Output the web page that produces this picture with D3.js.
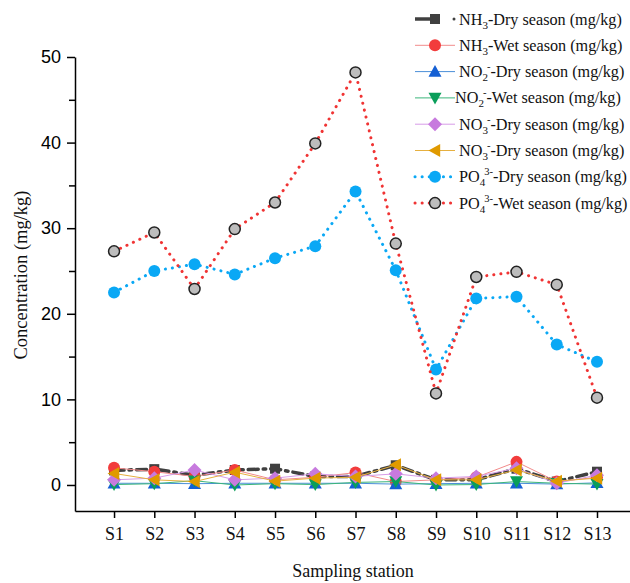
<!DOCTYPE html>
<html>
<head>
<meta charset="utf-8">
<script src="https://cdn.jsdelivr.net/npm/d3@7"></script>
<style>
  html, body { margin: 0; padding: 0; background: #fff; }
  svg { display: block; }
</style>
</head>
<body>
<svg id="chart" width="630" height="583"></svg>
<script>
// ---------- data ----------
const stations = ["S1","S2","S3","S4","S5","S6","S7","S8","S9","S10","S11","S12","S13"];
const yTicks = [0, 10, 20, 30, 40, 50];
const yMinorTicks = [5, 15, 25, 35, 45];

const nh3Dry  = [1.7, 1.85, 1.15, 1.75, 1.9, 1.0, 1.0, 2.3, 0.6, 0.6, 1.9, 0.4, 1.55];
const nh3Wet  = [2.0, 1.55, 1.0, 1.75, 0.6, 0.9, 1.45, 0.4, 0.6, 0.9, 2.7, 0.4, 0.9];
const no2Dry  = [0.2, 0.2, 0.15, 0.2, 0.2, 0.2, 0.2, 0.1, 0.15, 0.2, 0.2, 0.1, 0.25];
const no2Wet  = [0.05, 0.15, 0.5, 0.0, 0.15, 0.05, 0.3, 0.4, 0.0, 0.05, 0.4, 0.2, 0.1];
const no3Dry  = [0.6, 0.8, 1.75, 0.6, 0.8, 1.3, 1.0, 1.3, 0.8, 1.0, 1.95, 0.2, 1.15];
const no3Dry2 = [1.35, 0.6, 0.4, 1.5, 0.45, 0.8, 0.9, 2.35, 0.6, 0.6, 1.75, 0.45, 0.8];
const po4Dry  = [22.5, 25.0, 25.8, 24.6, 26.5, 27.9, 34.3, 25.1, 13.5, 21.8, 22.0, 16.4, 14.4];
const po4Wet  = [27.3, 29.5, 22.9, 29.9, 33.0, 39.9, 48.2, 28.2, 10.7, 24.3, 24.9, 23.4, 10.2];

// ---------- series styling ----------
const series = [
  {name:"NH", sub:"3", sup:"", rest:"-Dry season (mg/kg)", values:nh3Dry, line:"#404040", marker:"#404040", width:3.5, dash:"10,5,2.5,5", symbol:"square", size:10, stroke:"none"},
  {name:"NH", sub:"3", sup:"", rest:"-Wet season (mg/kg)", values:nh3Wet, line:"#f28b8b", marker:"#f23c3c", width:1, dash:null, symbol:"circle", size:12, stroke:"none"},
  {name:"NO", sub:"2", sup:"-", rest:"-Dry season (mg/kg)", values:no2Dry, line:"#4a8fd8", marker:"#1560d4", width:1, dash:null, symbol:"up", size:13, stroke:"none"},
  {name:"NO", sub:"2", sup:"-", rest:"-Wet season (mg/kg)", values:no2Wet, line:"#3bb57a", marker:"#0a9e5a", width:1, dash:null, symbol:"down", size:13, stroke:"none", legendShift:-4},
  {name:"NO", sub:"3", sup:"-", rest:"-Dry season (mg/kg)", values:no3Dry, line:"#d79ce8", marker:"#c77ade", width:1, dash:null, symbol:"diamond", size:14, stroke:"none"},
  {name:"NO", sub:"3", sup:"-", rest:"-Dry season (mg/kg)", values:no3Dry2, line:"#e6b040", marker:"#e09a00", width:1, dash:null, symbol:"left", size:13, stroke:"none"},
  {name:"PO", sub:"4", sup:"3-", rest:"-Dry season (mg/kg)", values:po4Dry, line:"#0aa8f5", marker:"#0aa8f5", width:3, dash:"0.1,7", symbol:"circle", size:12, stroke:"none"},
  {name:"PO", sub:"4", sup:"3-", rest:"-Wet season (mg/kg)", values:po4Wet, line:"#f03434", marker:"#bdbdbd", width:3, dash:"0.1,7", symbol:"circle", size:11, stroke:"#222"}
];

// ---------- scales ----------
const svg = d3.select("#chart");
const y = d3.scaleLinear().domain([-3.04, 50]).range([511, 57]);
const x = d3.scaleLinear().domain([-0.97, 12.82]).range([75, 630]);

// ---------- axes ----------
const yAxis = d3.axisLeft(y).tickValues(yTicks).tickSize(8).tickSizeOuter(0).tickPadding(6).tickFormat(d3.format("d"));
const gy = svg.append("g").attr("transform","translate(75,0)").call(yAxis);
gy.selectAll("text").attr("font-family","'Liberation Sans', Arial, sans-serif").attr("font-size","18px").attr("fill","#000");
gy.selectAll("line, path").attr("stroke","#000").attr("stroke-width",1.5);
const gyMinor = svg.append("g").attr("transform","translate(75,0)")
  .call(d3.axisLeft(y).tickValues(yMinorTicks).tickSize(6).tickSizeOuter(0).tickFormat(""));
gyMinor.select("path").remove();
gyMinor.selectAll("line").attr("stroke","#000").attr("stroke-width",1.5);

const xAxis = d3.axisBottom(x).tickValues(d3.range(stations.length)).tickFormat(i => stations[i]).tickSize(7).tickSizeOuter(0).tickPadding(9);
const gx = svg.append("g").attr("transform","translate(0,511)").call(xAxis);
gx.selectAll("text").attr("font-family","'Liberation Serif', 'Times New Roman', serif").attr("font-size","18px").attr("fill","#111");
gx.selectAll("line, path").attr("stroke","#000").attr("stroke-width",1.5);

// axis titles
svg.append("text").attr("transform","translate(27,275) rotate(-90)")
  .attr("text-anchor","middle").attr("font-family","'Liberation Serif', serif").attr("font-size","18.5px")
  .attr("fill","#111").text("Concentration (mg/kg)");
svg.append("text").attr("x",353).attr("y",577)
  .attr("text-anchor","middle").attr("font-family","'Liberation Serif', serif").attr("font-size","18px")
  .attr("fill","#111").text("Sampling station");

// ---------- symbols ----------
function drawSymbol(g, s, cx, cy) {
  const h = s.size / 2;
  let el;
  if (s.symbol === "square") {
    el = g.append("rect").attr("x",cx-h).attr("y",cy-h).attr("width",s.size).attr("height",s.size);
  } else if (s.symbol === "circle") {
    el = g.append("circle").attr("cx",cx).attr("cy",cy).attr("r",h);
  } else if (s.symbol === "diamond") {
    el = g.append("path").attr("d",`M${cx},${cy-h}L${cx+h},${cy}L${cx},${cy+h}L${cx-h},${cy}Z`);
  } else if (s.symbol === "up") {
    el = g.append("path").attr("d",`M${cx},${cy-h}L${cx+h},${cy+h*0.8}L${cx-h},${cy+h*0.8}Z`);
  } else if (s.symbol === "down") {
    el = g.append("path").attr("d",`M${cx},${cy+h}L${cx+h},${cy-h*0.8}L${cx-h},${cy-h*0.8}Z`);
  } else if (s.symbol === "left") {
    el = g.append("path").attr("d",`M${cx-h},${cy}L${cx+h*0.8},${cy-h}L${cx+h*0.8},${cy+h}Z`);
  }
  el.attr("fill", s.marker);
  if (s.stroke !== "none") el.attr("stroke", s.stroke).attr("stroke-width", 1.5);
}

// ---------- series ----------
const line = d3.line().x((d,i) => x(i)).y(d => y(d));
series.forEach(s => {
  const g = svg.append("g");
  const p = g.append("path").attr("d", line(s.values)).attr("fill","none")
    .attr("stroke", s.line).attr("stroke-width", s.width);
  if (s.dash) p.attr("stroke-dasharray", s.dash).attr("stroke-linecap","round");
  s.values.forEach((v,i) => drawSymbol(g, s, x(i), y(v)));
});

// ---------- legend ----------
const legendY0 = 19, legendStep = 26.3;
series.forEach((s, k) => {
  const ly = legendY0 + k * legendStep;
  const g = svg.append("g");
  if (s.symbol === "square") {
    g.append("line").attr("x1",415).attr("x2",437).attr("y1",ly).attr("y2",ly)
      .attr("stroke",s.line).attr("stroke-width",s.width);
    g.append("circle").attr("cx",454).attr("cy",ly).attr("r",1.5).attr("fill",s.line);
  } else {
    const l = g.append("line").attr("x1",415).attr("x2",455).attr("y1",ly).attr("y2",ly)
      .attr("stroke",s.line).attr("stroke-width",s.width);
    if (s.dash) l.attr("stroke-dasharray",s.dash).attr("stroke-linecap","round");
  }
  drawSymbol(g, s, 435, ly);
  const t = g.append("text").attr("x", 459 + (s.legendShift || 0)).attr("y", ly + 5.5)
    .attr("font-family","'Liberation Serif', serif").attr("font-size","16.2px").attr("fill","#111");
  t.append("tspan").text(s.name);
  t.append("tspan").attr("font-size","11px").attr("dy",4).text(s.sub);
  if (s.sup) {
    t.append("tspan").attr("font-size","10.5px").attr("dx",-1).attr("dy",-11).text(s.sup);
    t.append("tspan").attr("dy",7).text(s.rest);
  } else {
    t.append("tspan").attr("dy",-4).text(s.rest);
  }
});
</script>
</body>
</html>
